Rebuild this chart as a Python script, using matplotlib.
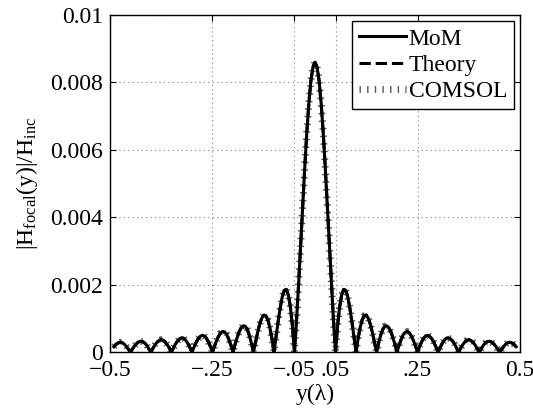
import numpy as np
import matplotlib
matplotlib.use("Agg")
import matplotlib.pyplot as plt

plt.rcParams['font.family'] = ['Liberation Serif', 'DejaVu Serif']
plt.rcParams['mathtext.fontset'] = 'custom'
plt.rcParams['mathtext.rm'] = 'Liberation Serif'
plt.rcParams['mathtext.it'] = 'Liberation Serif:italic'

# sample positions y (in wavelengths), step 0.005 from -0.49 to 0.49
y_pos = np.round(np.arange(-98, 99) * 0.005, 4)

# right half of the field magnitude (y = 0 ... 0.49)
half = [0.0086, 0.00846, 0.00805, 0.00738, 0.00651, 0.00548, 0.00434, 0.00316, 0.00201, 0.00094,
        0.0, 0.00077, 0.00134, 0.00170, 0.00186, 0.00183, 0.00163, 0.00130, 0.00089, 0.00045,
        0.0, 0.00040, 0.00073, 0.00096, 0.00108, 0.00110, 0.00100, 0.00082, 0.00057, 0.00029,
        0.0, 0.00027, 0.00050, 0.00067, 0.00077, 0.00078, 0.00072, 0.00060, 0.00042, 0.00022,
        0.0, 0.00021, 0.00038, 0.00052, 0.00059, 0.00061, 0.00057, 0.00047, 0.00034, 0.00017,
        0.0, 0.00017, 0.00031, 0.00042, 0.00048, 0.00050, 0.00046, 0.00039, 0.00028, 0.00014,
        0.0, 0.00014, 0.00026, 0.00035, 0.00041, 0.00042, 0.00039, 0.00033, 0.00024, 0.00012,
        0.0, 0.00012, 0.00022, 0.00030, 0.00035, 0.00037, 0.00034, 0.00029, 0.00021, 0.00011,
        0.0, 0.00010, 0.00020, 0.00027, 0.00031, 0.00032, 0.00030, 0.00025, 0.00018, 0.00009,
        0.0, 0.00009, 0.00017, 0.00024, 0.00028, 0.00029, 0.00027, 0.00023, 0.00016]
mom = half[:0:-1] + half
theory = mom
comsol = mom

xticks = [-0.5, -0.25, -0.05, 0.05, 0.25, 0.5]
xtick_labels = ['\u22120.5', '\u2212.25', '\u2212.05', '.05', '.25', '0.5']
yticks = [0, 0.002, 0.004, 0.006, 0.008, 0.01]
ytick_labels = ['0', '0.002', '0.004', '0.006', '0.008', '0.01']

comsol_style = dict(color='0.35', lw=5, linestyle=(0, (0.2, 0.9)), dash_capstyle='butt')

fig = plt.figure(figsize=(5.33, 4.08), dpi=100)
ax = fig.add_axes([0.206, 0.137, 0.77, 0.826])

ax.plot(y_pos, comsol, zorder=2, **comsol_style)
ax.plot(y_pos, mom, '-', color='k', lw=2.2, label='MoM', zorder=4)
ax.plot(y_pos, theory, '--', color='k', lw=2.2, label='Theory', zorder=3)
ax.plot([], [], label='COMSOL', **comsol_style)

ax.set_xlim(-0.5, 0.5)
ax.set_ylim(0, 0.01)
ax.set_xticks(xticks)
ax.set_xticklabels(xtick_labels)
ax.set_yticks(yticks)
ax.set_yticklabels(ytick_labels)
ax.tick_params(direction='in', labelsize=17, length=4, top=True, right=True)
ax.tick_params(axis='x', pad=6)
ax.tick_params(axis='y', pad=5)
ax.grid(True, linestyle=(0, (1, 3)), color='0.5', lw=0.8)
for s in ax.spines.values():
    s.set_linewidth(1.0)

ax.set_xlabel('y(\u03bb)', fontsize=17, labelpad=2)
ax.set_ylabel(r'$|\mathrm{H}_{\mathrm{focal}}(\mathrm{y})|/\mathrm{H}_{\mathrm{inc}}$', fontsize=17, labelpad=7)

leg = ax.legend(loc='upper right', fontsize=17, fancybox=False, framealpha=1,
                edgecolor='k', borderaxespad=0.25, handlelength=2.0,
                handletextpad=0.1, labelspacing=0.2, borderpad=0.3)
leg.get_frame().set_linewidth(1.0)

fig.savefig('out.png', dpi=100)
